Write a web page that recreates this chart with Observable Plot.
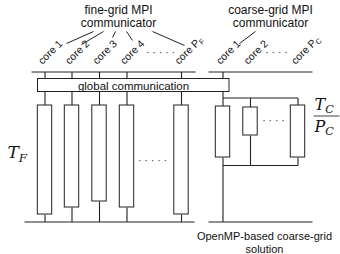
<!DOCTYPE html>
<html><head><meta charset="utf-8">
<script src="https://cdn.jsdelivr.net/npm/d3@7"></script>
<script src="https://cdn.jsdelivr.net/npm/@observablehq/plot@0.6"></script>
<style>body{margin:0;background:#fff}</style>
</head><body><div id="chart"></div>
<script>
// fine-grid cores (slot = horizontal position in diagram units), bar end = time end
const fineCores = ["core 1", "core 2", "core 3", "core 4", "core P_F"];
const fineSlot = [44.5, 71.5, 99, 126.5, 181];
const fineBarEnd = [214, 207, 201, 207, 214];
// coarse-grid cores
const coarseCores = ["core 1", "core 2", "core P_C"];
const coarseSlot = [222.5, 250, 297.5];
const coarseBoxStart = [106, 107, 105];
const coarseBoxEnd = [157, 135, 157];
// connector lines from communicator labels to core labels
const fineLinks = [[66,43,93,31],[81,44,103,31],[112,37,115,31],[126,31,132,40],[152,31,184,45]];
const coarseLinks = [[239,43,255,31]];

const barTop = 105, commTop = 78.5, commBot = 91.5, busTop = 71.5, busBot = 221.5;
const font = "Liberation Sans, Arial, Helvetica, sans-serif";
const serif = "DejaVu Serif, Liberation Serif, serif";
const ink = "#222";

const fine = fineCores.map((c, i) => ({c, x: fineSlot[i], e: fineBarEnd[i]}));
const coarse = coarseCores.map((c, i) => ({c, x: coarseSlot[i], s: coarseBoxStart[i], e: coarseBoxEnd[i]}));
const links = fineLinks.concat(coarseLinks).map(([x1,y1,x2,y2]) => ({x1,y1,x2,y2}));

const hlines = [
  {x1: 31, x2: 195, y: busTop}, {x1: 208, x2: 312, y: busTop},
  {x1: 24, x2: 194, y: busBot}, {x1: 208, x2: 312, y: busBot},
  {x1: coarseSlot[0], x2: coarseSlot[2], y: 97.5},
  {x1: coarseSlot[0], x2: coarseSlot[2], y: 165}
];
const vlines = [
  ...fine.flatMap(d => [{x: d.x, y1: busTop, y2: commTop}, {x: d.x, y1: commBot, y2: barTop}, {x: d.x, y1: d.e, y2: busBot}]),
  {x: coarseSlot[0], y1: busTop, y2: commTop}, {x: coarseSlot[0], y1: commBot, y2: coarse[0].s},
  {x: coarseSlot[0], y1: coarse[0].e, y2: busBot},
  {x: coarseSlot[1], y1: 97.5, y2: coarse[1].s}, {x: coarseSlot[1], y1: coarse[1].e, y2: 165},
  {x: coarseSlot[2], y1: 97.5, y2: coarse[2].s}, {x: coarseSlot[2], y1: coarse[2].e, y2: 165}
];

const plot = Plot.plot({
  width: 340, height: 254,
  margin: 0,
  x: {domain: [0, 340], range: [0, 340], axis: null},
  y: {domain: [0, 254], range: [0, 254], axis: null},
  style: {background: "#fff"},
  marks: [
    Plot.link(hlines, {x1: "x1", x2: "x2", y1: "y", y2: "y", stroke: ink, strokeWidth: 1.1}),
    Plot.link(vlines, {x1: "x", x2: "x", y1: "y1", y2: "y2", stroke: ink, strokeWidth: 1.1}),
    Plot.link(links, {x1: "x1", y1: "y1", x2: "x2", y2: "y2", stroke: ink, strokeWidth: 1}),
    Plot.rect([{x1: 37.5, x2: 229, y1: commTop, y2: commBot}], {x1: "x1", x2: "x2", y1: "y1", y2: "y2", fill: "#fff", stroke: ink, strokeWidth: 1}),
    Plot.text(["global communication"], {x: 133, y: 85.5, text: d => d, fontSize: 11.5, fontFamily: font, fill: "#111"}),
    Plot.rect(fine, {x1: d => d.x - 7.2, x2: d => d.x + 7.2, y1: barTop, y2: "e", fill: "#fff", stroke: ink, strokeWidth: 1}),
    Plot.rect(coarse, {x1: d => d.x - 7.2, x2: d => d.x + 7.2, y1: "s", y2: "e", fill: "#fff", stroke: ink, strokeWidth: 1}),
    Plot.text(fine, {x: d => d.x - 5, y: 62, text: "c", rotate: -45, textAnchor: "start", fontSize: 10.5, fontFamily: font, fill: "#111"}),
    Plot.text(coarse, {x: d => d.x - 5, y: 62, text: "c", rotate: -45, textAnchor: "start", fontSize: 10.5, fontFamily: font, fill: "#111"}),
    Plot.text(["· · · · ·"], {x: 160, y: 52, text: d => d, fontSize: 10.5, fontFamily: font, fill: "#333"}),
    Plot.text(["· · · ·"], {x: 276, y: 52, text: d => d, fontSize: 10.5, fontFamily: font, fill: "#333"}),
    Plot.text(["· · · · ·"], {x: 152, y: 160, text: d => d, fontSize: 10.5, fontFamily: font, fill: "#333"}),
    Plot.text(["· · · ·"], {x: 273, y: 120, text: d => d, fontSize: 10.5, fontFamily: font, fill: "#333"}),
    Plot.text(["fine-grid MPI\ncommunicator"], {x: 118, y: 16, text: d => d, fontSize: 12, lineHeight: 1.1, fontFamily: font, fill: "#111"}),
    Plot.text(["coarse-grid MPI\ncommunicator"], {x: 270, y: 16, text: d => d, fontSize: 12, lineHeight: 1.1, fontFamily: font, fill: "#111"}),
    Plot.text(["OpenMP-based coarse-grid\nsolution"], {x: 264, y: 242, text: d => d, fontSize: 11, lineHeight: 1.15, fontFamily: font, fill: "#111"}),
    Plot.text(["T_F"], {x: 7, y: 152, text: d => d, textAnchor: "start", fontSize: 17, fontStyle: "italic", fontFamily: serif, fill: "#111"}),
    Plot.text(["T_C"], {x: 314, y: 104, text: d => d, textAnchor: "start", fontSize: 16, fontStyle: "italic", fontFamily: serif, fill: "#111"}),
    Plot.text(["P_C"], {x: 314, y: 126, text: d => d, textAnchor: "start", fontSize: 16, fontStyle: "italic", fontFamily: serif, fill: "#111"}),
    Plot.link([{x1: 313, x2: 339, y: 115.5}], {x1: "x1", x2: "x2", y1: "y", y2: "y", stroke: "#111", strokeWidth: 0.8})
  ]
});

// render subscripts as tspans
const ns = "http://www.w3.org/2000/svg";
plot.querySelectorAll("text").forEach(t => {
  if (t.children.length === 0 && t.textContent.includes("_")) {
    const [a, b] = t.textContent.split("_");
    t.textContent = a;
    const ts = document.createElementNS(ns, "tspan");
    ts.setAttribute("font-size", "0.7em");
    ts.setAttribute("dy", "0.3em");
    ts.textContent = b;
    t.appendChild(ts);
  }
});
document.getElementById("chart").appendChild(plot);
</script>
</body></html>
